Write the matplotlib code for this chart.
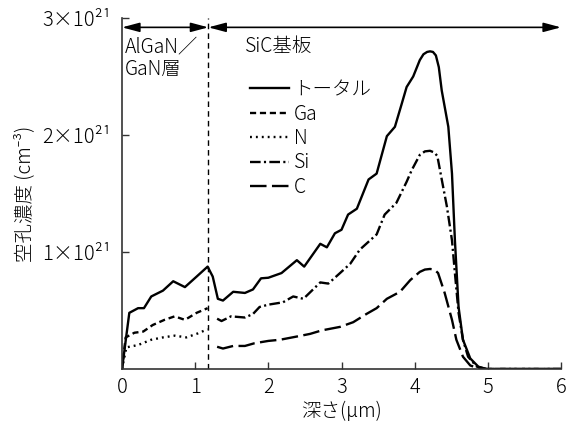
import numpy as np
import matplotlib
matplotlib.use('Agg')
from matplotlib import pyplot as plt

plt.rcParams['font.family'] = ['Noto Sans CJK JP', 'Noto Sans', 'DejaVu Sans']
plt.rcParams['font.weight'] = 'light'
plt.rcParams['axes.labelweight'] = 'light'
plt.rcParams['font.size'] = 14

# 深さ (µm) と空孔濃度 (×1e21 cm^-3)
total_x = [0.0, 0.10, 0.22, 0.30, 0.40, 0.56, 0.70, 0.86, 1.02, 1.17, 1.24,
           1.31, 1.38, 1.52, 1.68, 1.79, 1.90, 2.00, 2.18, 2.39, 2.49, 2.71,
           2.80, 2.91, 3.00, 3.09, 3.21, 3.37, 3.48, 3.62, 3.73, 3.82, 3.89,
           3.98, 4.07, 4.12, 4.17, 4.21, 4.25, 4.29, 4.33, 4.37, 4.46, 4.51,
           4.55, 4.60, 4.66, 4.76, 4.87, 4.98, 6.0]
total_y = [0.0, 0.48, 0.52, 0.52, 0.62, 0.67, 0.75, 0.70, 0.79, 0.875, 0.79,
           0.60, 0.585, 0.66, 0.65, 0.68, 0.775, 0.78, 0.82, 0.93, 0.875, 1.07,
           1.04, 1.16, 1.19, 1.32, 1.37, 1.62, 1.67, 1.99, 2.07, 2.26, 2.41,
           2.50, 2.64, 2.69, 2.71, 2.715, 2.71, 2.68, 2.58, 2.38, 2.07, 1.67,
           1.10, 0.53, 0.25, 0.09, 0.02, 0.0, 0.0]

ga_x = [0.0, 0.05, 0.17, 0.29, 0.42, 0.58, 0.72, 0.86, 1.02, 1.17]
ga_y = [0.0, 0.27, 0.31, 0.32, 0.376, 0.42, 0.45, 0.42, 0.48, 0.52]

n_x = [0.0, 0.06, 0.22, 0.40, 0.56, 0.72, 0.88, 1.04, 1.17]
n_y = [0.0, 0.185, 0.205, 0.25, 0.27, 0.285, 0.27, 0.305, 0.34]

si_x = [1.30, 1.36, 1.49, 1.68, 1.79, 1.88, 2.00, 2.20, 2.34, 2.48, 2.71,
        2.82, 2.98, 3.12, 3.25, 3.48, 3.59, 3.75, 3.89, 3.96, 4.07, 4.14,
        4.21, 4.27, 4.31, 4.37, 4.44, 4.51, 4.55, 4.60, 4.66, 4.73, 4.85,
        4.98, 6.0]
si_y = [0.43, 0.41, 0.45, 0.44, 0.47, 0.53, 0.55, 0.57, 0.62, 0.60, 0.74,
        0.73, 0.82, 0.90, 1.02, 1.15, 1.32, 1.42, 1.60, 1.70, 1.83, 1.86,
        1.865, 1.85, 1.82, 1.62, 1.39, 1.10, 0.82, 0.48, 0.25, 0.105, 0.02,
        0.0, 0.0]

c_x = [1.30, 1.38, 1.52, 1.68, 1.81, 2.00, 2.16, 2.41, 2.57, 2.73, 2.98,
       3.16, 3.34, 3.48, 3.62, 3.80, 3.94, 4.07, 4.14, 4.21, 4.27, 4.32,
       4.41, 4.51, 4.57, 4.66, 4.76, 4.90, 6.0]
c_y = [0.19, 0.175, 0.197, 0.197, 0.22, 0.24, 0.25, 0.28, 0.30, 0.33, 0.36,
       0.40, 0.47, 0.52, 0.60, 0.66, 0.76, 0.83, 0.85, 0.855, 0.85, 0.82,
       0.65, 0.42, 0.25, 0.105, 0.03, 0.0, 0.0]

x_ticks = [0, 1, 2, 3, 4, 5, 6]
y_ticks = [1, 2, 3]
y_tick_labels = ['1×10²¹', '2×10²¹', '3×10²¹']
interface = 1.18

fig = plt.figure(figsize=(5.68, 4.26), dpi=100)
ax = fig.add_axes([122 / 568, 57 / 426, 439 / 568, 351 / 426])

lw = 1.7
ax.plot(total_x, total_y, color='black', lw=lw, ls='-', label='トータル')
ax.plot(ga_x, ga_y, color='black', lw=lw, ls=(0, (2.6, 1.6)), label='Ga')
ax.plot(n_x, n_y, color='black', lw=lw, ls=(0, (0.8, 1.7)), label='N')
ax.plot(si_x, si_y, color='black', lw=lw, ls=(0, (4.5, 1.4, 0.9, 1.4)),
        label='Si')
ax.plot(c_x, c_y, color='black', lw=lw, ls=(0, (7.0, 2.3)), label='C')

ax.axvline(interface, color='black', lw=1.0, ls=(0, (4, 3)))

# 領域を示す矢印
arrow = dict(arrowstyle='<|-|>,head_length=0.75,head_width=0.2',
             color='black', lw=1.2, mutation_scale=14, shrinkA=0, shrinkB=0)
ax.annotate('', xy=(0, 2.92), xytext=(interface, 2.92), arrowprops=arrow)
ax.annotate('', xy=(interface, 2.92), xytext=(6.0, 2.92), arrowprops=arrow)
ax.text(0.04, 2.84, 'AlGaN／\nGaN層', ha='left', va='top', linespacing=1.1)
ax.text(1.68, 2.76, 'SiC基板', ha='left', va='center')

ax.set_xlim(0, 6)
ax.set_ylim(0, 3)
ax.set_xticks(x_ticks)
ax.set_yticks(y_ticks)
ax.set_yticklabels(y_tick_labels)
ax.tick_params(direction='in', length=5, width=1.0, color='#333333',
               labelsize=14.5)
ax.tick_params(axis='x', pad=6)
ax.tick_params(axis='y', pad=8)
for side in ['top', 'right']:
    ax.spines[side].set_visible(False)
for side in ['left', 'bottom']:
    ax.spines[side].set_linewidth(1.2)
    ax.spines[side].set_color('#333333')

ax.set_xlabel('深さ(μm)', labelpad=2)
ax.set_ylabel('空孔濃度 (cm⁻³)', labelpad=5)

ax.legend(loc='upper left', bbox_to_anchor=(128 / 439, 1 - 61 / 351),
          frameon=False, handlelength=2.0, handletextpad=0.25,
          labelspacing=0.18, borderpad=0, borderaxespad=0)

fig.savefig('out.png', dpi=100)
